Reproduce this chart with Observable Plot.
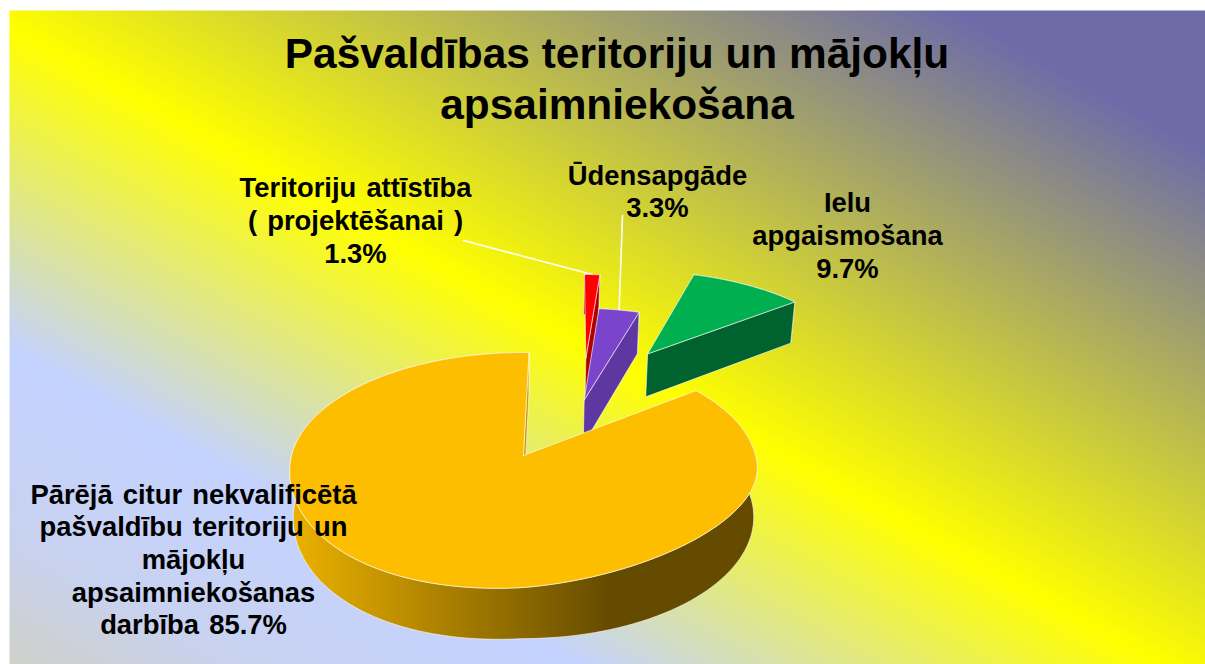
<!DOCTYPE html>
<html>
<head>
<meta charset="utf-8">
<script src="https://cdn.jsdelivr.net/npm/d3@7"></script>
<script src="https://cdn.jsdelivr.net/npm/@observablehq/plot@0.6"></script>
<style>
html,body{margin:0;padding:0;background:#fff;overflow:hidden}
svg{display:block}
.wide text{word-spacing:2.5px}
</style>
</head>
<body>
<div id="chart"></div>
<script>
// ---- data ----
const titleText = "Pašvaldības teritoriju un mājokļu\napsaimniekošana";
const categories = ["Teritoriju attīstība\n( projektēšanai )", "Ūdensapgāde", "Ielu\napgaismošana",
  "Pārējā citur nekvalificētā\npašvaldību teritoriju un\nmājokļu\napsaimniekošanas\ndarbība"];
const values = [1.3, 3.3, 9.7, 85.7];
const valueSeparators = ["\n", "\n", "\n", " "];

// ---- look ----
const topColors = ["#ff0000", "#7a45cc", "#00b050", "#fdbe00"];
const wallColors = ["#b00000", "#5f37a0", "#00632f", "#c79600"];
const rimColors = ["#b00000", "#5f37a0", "#00632f", "url(#rimGold)"];

// ---- 3-D pie layout: pull of each slice on the ground plane, and the camera ----
const startAngle = 1.5;                                // degrees, clockwise from the far side
const pull = [{u: 0.30, v: 0.94}, {u: 0.278, v: 0.51}, {u: 0.60, v: 0.985}, {u: 0, v: 0}];
const cam = {x0: 523, y0: 455, A: 232, B: 115.7, k: 0.1234, H: 46.5, s: 0.985, twistLeft: 13.5, twistRight: 19};
const project = (u, v, low) => {
  const den = 1 + cam.k * v, s = low ? cam.s : 1;
  const twist = u < 0 ? cam.twistLeft : (low ? 0 : cam.twistRight);
  return {
    x: cam.x0 + s * cam.A * u / den,
    y: cam.y0 - s * cam.B * v / den + (low ? cam.H / den : 0) + twist * u * Math.min(v, 0) / den
  };
};

// ---- slices from the values ----
const total = d3.sum(values);
let running = startAngle;
const slices = values.map((value, i) => {
  const a0 = running, a1 = running + value / total * 360;
  running = a1;
  return {i, a0, a1, pull: pull[i]};
});
const rimPoint = (s, deg, low) => {
  const r = deg * Math.PI / 180;
  return project(s.pull.u + Math.sin(r), s.pull.v + Math.cos(r), low);
};
const arc = (s, low) => {
  const n = Math.max(4, Math.ceil((s.a1 - s.a0) / 2));
  return d3.range(n + 1).map(j => rimPoint(s, s.a0 + (s.a1 - s.a0) * j / n, low));
};
const apex = (s, low) => project(s.pull.u, s.pull.v, low);
const closed = pts => [...pts, pts[0]];
const topFace = s => closed([apex(s, false), ...arc(s, false)]);
const rimFace = s => closed([...arc(s, false), ...arc(s, true).reverse()]);
const wallFace = s => closed([apex(s, false), rimPoint(s, s.a1, false), rimPoint(s, s.a1, true), apex(s, true)]);

const edge = {stroke: "#ffffff", strokeOpacity: 0.75, strokeWidth: 0.8, curve: "linear"};
const faces = slices.flatMap(s => [
  Plot.line(rimFace(s), {x: "x", y: "y", fill: rimColors[s.i], ...edge}),
  Plot.line(wallFace(s), {x: "x", y: "y", fill: wallColors[s.i], ...edge}),
  Plot.line(topFace(s), {x: "x", y: "y", fill: topColors[s.i], ...edge})
]);

// ---- labels ----
const labelText = categories.map((c, i) => `${c}${valueSeparators[i]}${values[i].toFixed(1)}%`);
const labelPlace = [{x: 355, y: 219}, {x: 657, y: 190}, {x: 847, y: 234}, {x: 193, y: 558}];
const labels = labelText.map((text, i) => ({text, ...labelPlace[i]}));
const leaderStart = [{x: 463, y: 240}, {x: 622, y: 215}];
const leaders = leaderStart.map((p, i) => {
  const s = slices[i];
  return [p, rimPoint(s, (s.a0 + s.a1) / 2, false)];
});

const defs = () => {
  const ns = "http://www.w3.org/2000/svg";
  const g = document.createElementNS(ns, "defs");
  g.innerHTML = `
  <linearGradient id="bg" gradientUnits="userSpaceOnUse" x1="328" y1="841" x2="887" y2="-169">
    <stop offset="0" stop-color="#cfd0c8"/>
    <stop offset="0.1" stop-color="#c8d2f0"/>
    <stop offset="0.24" stop-color="#c4d2ff"/>
    <stop offset="0.483" stop-color="#ffff00"/>
    <stop offset="0.89" stop-color="#6d6ca8"/>
    <stop offset="1" stop-color="#6d6ca8"/>
  </linearGradient>
  <linearGradient id="rimGold" gradientUnits="userSpaceOnUse" x1="290" y1="0" x2="610" y2="0">
    <stop offset="0" stop-color="#ecb200"/>
    <stop offset="1" stop-color="#654b00"/>
  </linearGradient>`;
  return g;
};

const font = {fontFamily: "'Liberation Sans', Arial, sans-serif", fontWeight: "bold", fill: "#000"};

const chart = Plot.plot({
  width: 1205,
  height: 664,
  margin: 0,
  style: {background: "#fff"},
  x: {domain: [0, 1205], range: [0, 1205], axis: null},
  y: {domain: [0, 664], range: [0, 664], axis: null},
  marks: [
    defs,
    Plot.frame({fill: "url(#bg)", stroke: "none", insetLeft: 9, insetTop: 10}),
    ...leaders.map(l => Plot.line(l, {x: "x", y: "y", stroke: "#ffffff", strokeWidth: 1.6, curve: "linear"})),
    ...faces,
    Plot.text(labels, {x: "x", y: "y", text: "text", fontSize: 27.4, lineHeight: 1.19, className: "wide", ...font}),
    Plot.text([titleText], {x: () => 616.5, y: () => 77, text: d => d, fontSize: 42.4, lineHeight: 1.19, ...font})
  ]
});
document.getElementById("chart").append(chart);
</script>
</body>
</html>
